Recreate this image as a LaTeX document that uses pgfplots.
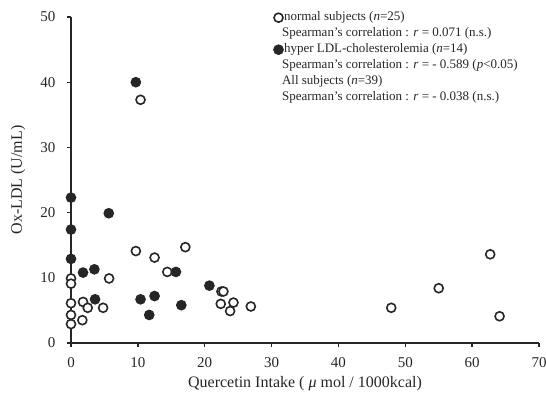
\documentclass[border=0pt]{standalone}
\usepackage{pgfplots}
\pgfplotsset{compat=1.18}
\usepackage{fontspec}
\setmainfont{Liberation Serif}
\pgfplotsset{mylegimg/.style={legend image code/.code={\draw[##1] plot coordinates {(0bp,0bp)};}}}
\begin{document}
\begin{tikzpicture}
\begin{axis}[
  name=ax,
  scale only axis, width=468bp, height=326bp,
  xmin=0, xmax=70, ymin=0, ymax=50,
  axis lines*=left,
  axis on top,
  clip=false,
  axis line style={line width=1.3bp, black!85},
  xtick={0,10,...,70}, ytick={0,10,...,50},
  tick align=outside, major tick length=4bp,
  tick style={line width=1.3bp, black!85},
  /pgf/number format/assume math mode=true,
  tick label style={font=\fontsize{15bp}{15bp}\selectfont, text=black!85},
  yticklabel style={xshift=-8bp},
  xticklabel style={yshift=-7bp},
  label style={font=\fontsize{16bp}{16bp}\selectfont, text=black!85},
  xlabel={Quercetin Intake ( \textit{μ} mol / 1000kcal)},
  ylabel={Ox-LDL (U/mL)},
  xlabel style={at={(axis description cs:0.5,-0.1235)}, anchor=center},
  ylabel style={at={(axis description cs:-0.1132,0.5)}, anchor=center},
  legend style={draw=none, fill=none, inner sep=0pt, outer sep=0pt,
    at={(0.4338,1.0224)}, anchor=north west,
    font=\fontsize{13bp}{16bp}\selectfont,
    row sep=0pt, column sep=1bp,
    nodes={inner sep=0pt, text height=11bp, text depth=5bp, text=black!85}},
  legend cell align=left,
]
\addplot[only marks, mark=*, mark size=4.5bp,
  mark options={fill=white, draw=black!85, line width=1.6bp}, mylegimg]
coordinates {
(0,9.9)(0,9.1)(0,6.1)(0,4.3)(0,2.9)(1.8,6.3)(1.7,3.5)(2.5,5.4)(4.8,5.4)(5.7,9.9)
(9.7,14.1)(12.5,13.1)(14.4,10.9)(17.1,14.7)(22.5,7.9)(22.8,7.9)(22.4,6.0)(24.3,6.2)
(23.8,4.9)(26.9,5.6)(10.4,37.3)(47.9,5.4)(55.0,8.4)(62.7,13.6)(64.1,4.1)
};
\addlegendentry{normal subjects (\textit{n}=25)}
\addlegendimage{empty legend}
\addlegendentry{\hspace*{-2bp}Spearman’s correlation : \textit{r} = 0.071 (n.s.)}
\addplot[only marks, mark=*, mark size=4.5bp,
  mark options={fill=black!85, draw=black!85, line width=1.6bp}, mylegimg]
coordinates {
(0,22.3)(0,17.4)(0,12.9)(5.65,19.9)(1.8,10.8)(3.5,11.3)(3.6,6.7)(10.4,6.7)
(11.7,4.3)(12.5,7.2)(15.7,10.9)(16.5,5.8)(20.7,8.8)(9.7,40.0)
};
\addlegendentry{hyper LDL-cholesterolemia (\textit{n}=14)}
\addlegendimage{empty legend}
\addlegendentry{\hspace*{-2bp}Spearman’s correlation : \textit{r} = - 0.589 (\textit{p}<0.05)}
\addlegendimage{empty legend}
\addlegendentry{\hspace*{-2bp}All subjects (\textit{n}=39)}
\addlegendimage{empty legend}
\addlegendentry{\hspace*{-2bp}Spearman’s correlation : \textit{r} = - 0.038 (n.s.)}
\end{axis}
\pgfresetboundingbox
\useasboundingbox ([shift={(-71bp,-53bp)}]ax.south west) rectangle ([shift={(7bp,17bp)}]ax.north east);
\end{tikzpicture}
\end{document}
